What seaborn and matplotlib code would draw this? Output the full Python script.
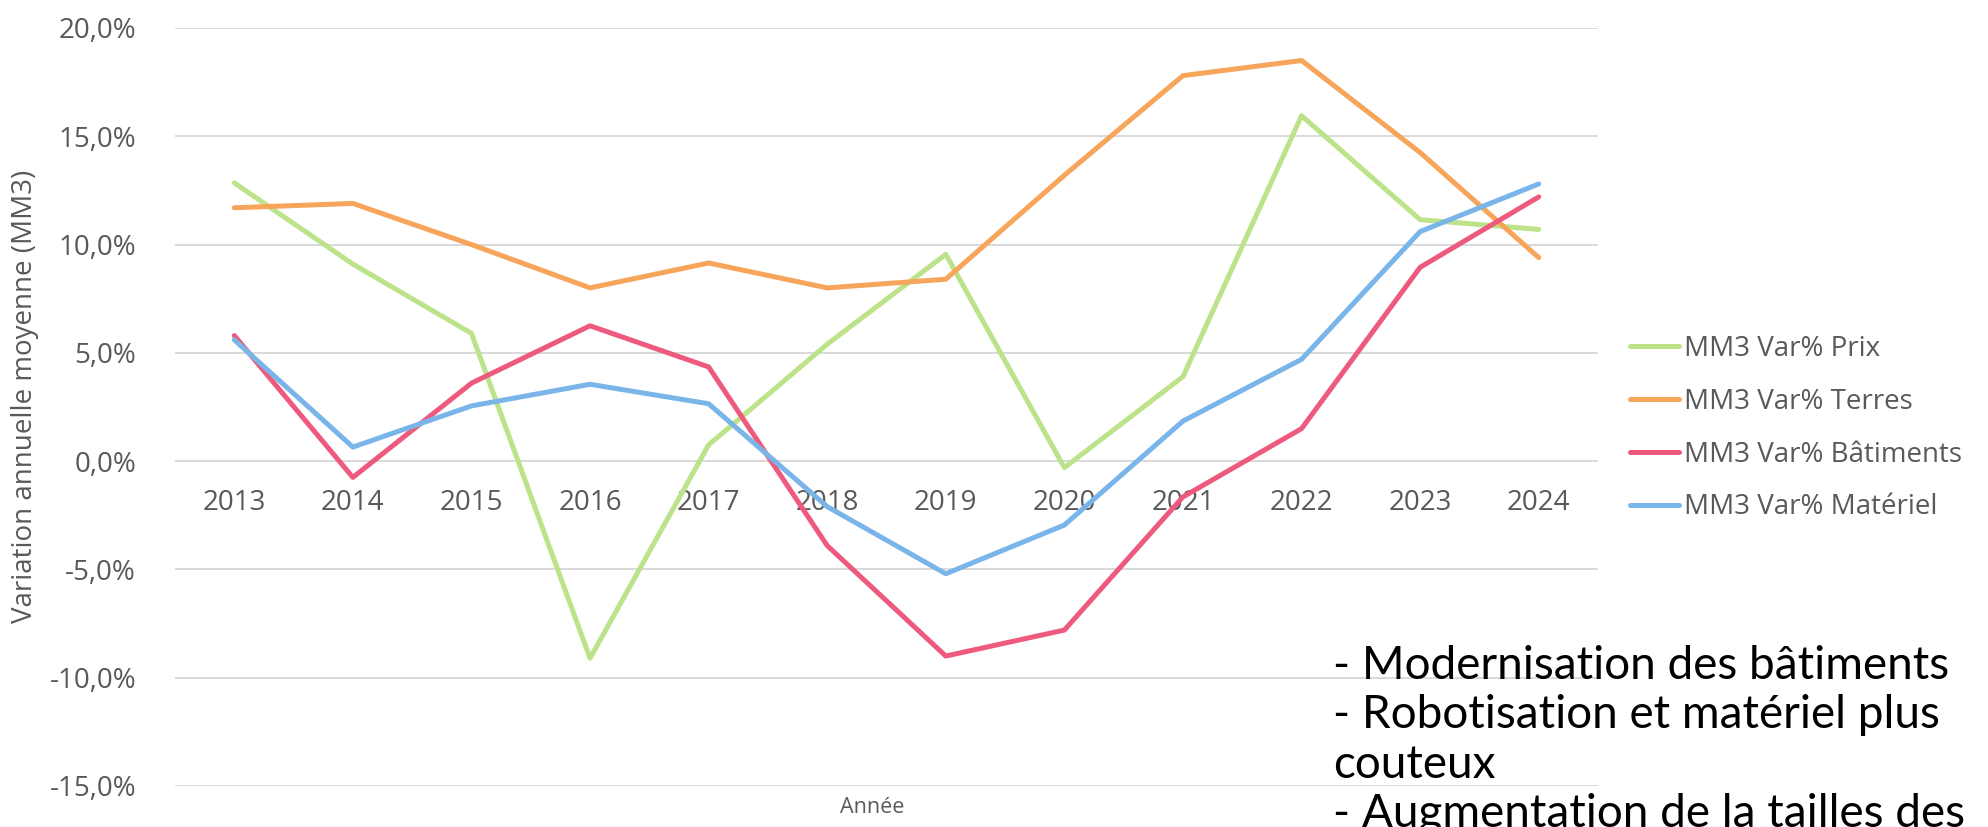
import pandas as pd
import matplotlib
matplotlib.use("Agg")
import matplotlib.pyplot as plt
import seaborn as sns
from matplotlib.ticker import FuncFormatter

### DONNÉES ###
annees = [2013, 2014, 2015, 2016, 2017, 2018, 2019, 2020, 2021, 2022, 2023, 2024]
prix = [12.85, 9.1, 5.9, -9.1, 0.75, 5.4, 9.55, -0.3, 3.9, 15.95, 11.15, 10.7]
terres = [11.7, 11.9, 10.0, 8.0, 9.15, 8.0, 8.4, 13.2, 17.8, 18.5, 14.25, 9.4]
batiments = [5.8, -0.75, 3.6, 6.25, 4.35, -3.9, -9.0, -7.8, -1.65, 1.5, 8.95, 12.2]
materiel = [5.6, 0.65, 2.55, 3.55, 2.65, -2.1, -5.2, -2.95, 1.85, 4.7, 10.6, 12.8]

series = ["MM3 Var% Prix", "MM3 Var% Terres", "MM3 Var% Bâtiments", "MM3 Var% Matériel"]
couleurs = ["#BDE38A", "#F7A55B", "#EE5A7E", "#7AB5EA"]
yticks = [-15, -10, -5, 0, 5, 10, 15, 20]

note = ("- Modernisation des bâtiments\n"
        "- Robotisation et matériel plus\n"
        "couteux\n"
        "- Augmentation de la tailles des")

#Format long pour seaborn
df = pd.DataFrame({"Année": [str(a) for a in annees] * 4,
                   "valeur": prix + terres + batiments + materiel,
                   "serie": [s for s in series for _ in annees]})

### GRAPHIQUE ###
sns.set_theme(style="white")
plt.rcParams["font.family"] = ["Open Sans", "DejaVu Sans"]
gris = "#595959"

fig = plt.figure(figsize=(19.88, 8.27), dpi=100)
ax = fig.add_axes([175 / 1988, 1 - 786 / 827, (1598 - 175) / 1988, (786 - 28) / 827])

sns.lineplot(data=df, x="Année", y="valeur", hue="serie", hue_order=series,
             palette=couleurs, linewidth=3.6, sort=False, ax=ax, legend=True)

ax.set_xlim(-0.5, len(annees) - 0.5)
ax.set_ylim(-15, 20)
ax.set_yticks(yticks)
ax.yaxis.set_major_formatter(FuncFormatter(lambda v, p: f"{v:.1f}%".replace(".", ",")))
ax.grid(axis="y", color="#D9D9D9", linewidth=1.4)
ax.set_axisbelow(True)
for s in ax.spines.values():
    s.set_visible(False)
ax.spines["bottom"].set_position(("data", 0))
ax.tick_params(axis="x", length=0, pad=20, labelsize=20, labelcolor=gris)
ax.tick_params(axis="y", length=0, pad=28, labelsize=20, labelcolor=gris)
ax.set_xlabel("")
ax.set_ylabel("")
ax.text(0.49, -0.029, "Année", transform=ax.transAxes, ha="center", va="center",
        fontsize=15.5, color=gris)

fig.text(25 / 1988, 1 - 396 / 827, "Variation annuelle moyenne (MM3)", rotation=90,
         ha="center", va="center", fontsize=20, color=gris)

handles, labels = ax.get_legend_handles_labels()
ax.legend_.remove()
fig.legend(handles, labels, loc="center left", bbox_to_anchor=(1630 / 1988, 1 - 428 / 827),
           frameon=False, fontsize=20, labelcolor=gris, handlelength=1.75,
           handletextpad=0.2, labelspacing=0.9, borderpad=0, borderaxespad=0)

fig.text(1333 / 1988, 1 - 645 / 827, note, ha="left", va="top", fontsize=33,
         color="black", linespacing=1.22, family=["Lato", "DejaVu Sans"])

fig.savefig("out.png", dpi=100)
